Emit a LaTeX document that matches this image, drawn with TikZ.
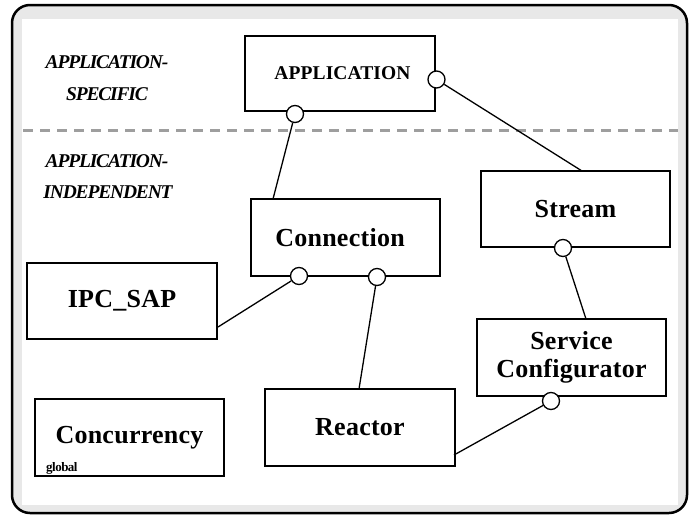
\documentclass[tikz,border=0pt]{standalone}
\usepackage{fontspec}
\setmainfont{Liberation Serif}
\newfontfamily\boxfont[LetterSpace=1]{Liberation Serif}
\newfontfamily\capfont[LetterSpace=0.5]{Liberation Serif}
\newfontfamily\sidefont[LetterSpace=-6]{Liberation Serif}
\newfontfamily\tinyfont[LetterSpace=-4]{Liberation Serif}
\begin{document}
\begin{tikzpicture}[x=1pt,y=-1pt,
  comp/.style={draw, line width=1.8pt, rectangle, minimum width=189pt, minimum height=76pt,
    inner sep=0pt, align=center, font=\boxfont\bfseries\fontsize{26}{28}\selectfont},
  port/.style={draw, circle, line width=1.3pt, fill=white, minimum size=17pt, inner sep=0pt},
  link/.style={line width=1.3pt},
  side/.style={anchor=base, font=\sidefont\bfseries\itshape\fontsize{19.5}{20}\selectfont}]
\useasboundingbox (0,0) rectangle (694,517);

% outer frame with shaded rim
\draw[line width=2.5pt, rounded corners=18pt, fill=black!9] (12,5) rectangle (687,513);
\fill[white] (22,19) rectangle (678,505);

% separator between the two layers
\draw[line width=3pt, black!38, dash pattern=on 10pt off 7pt] (23,130) -- (678,130);

% layer captions
\node[side] (specA) at (107,68) {APPLICATION-};
\node[side] (specB) at (107,100) {SPECIFIC};
\node[side] (indA) at (107,167) {APPLICATION-};
\node[side] (indB) at (108,198) {INDEPENDENT};

% components
\node[comp, minimum width=190pt, minimum height=75pt, font=\capfont\bfseries\fontsize{19.5}{20}\selectfont]
  (app) at (340,73.5) {\hspace*{5pt}APPLICATION};
\node[comp] (stream) at (575.5,209) {Stream};
\node[comp, minimum height=77pt] (conn) at (345.5,237.5) {\hspace*{-11pt}Connection};
\node[comp, minimum width=190pt] (ipc) at (122,301) {IPC\_SAP};
\node[comp, minimum height=77pt] (svc) at (571.5,357.5) {Service\\Configurator};
\node[comp, minimum width=190pt, minimum height=77pt] (reactor) at (360,427.5) {\raisebox{-1pt}{Reactor}};
\node[comp, minimum height=77pt] (conc) at (129.5,437.5) {\raisebox{-1pt}{Concurrency}};
\node[anchor=base west, inner sep=0pt, font=\tinyfont\bfseries\fontsize{13}{14}\selectfont]
  (glob) at (46,471) {global};

% interface ports
\node[port] (appB) at (295,114) {};
\node[port] (appR) at (436.5,79.5) {};
\node[port] (connL) at (299,276) {};
\node[port] (connR) at (377,277) {};
\node[port] (streamB) at (563,248) {};
\node[port] (svcB) at (551,401) {};

% attachment points on box borders
\coordinate (connTop) at (273,199);
\coordinate (streamTop) at (582,171);
\coordinate (ipcRight) at (218,327);
\coordinate (reactorTop) at (359,389);
\coordinate (svcTop) at (586,319);
\coordinate (reactorRight) at (454,455);

% connectors
\draw[link] (appB) -- (connTop);
\draw[link] (appR) -- (streamTop);
\draw[link] (connL) -- (ipcRight);
\draw[link] (connR) -- (reactorTop);
\draw[link] (streamB) -- (svcTop);
\draw[link] (svcB) -- (reactorRight);
\end{tikzpicture}
\end{document}
